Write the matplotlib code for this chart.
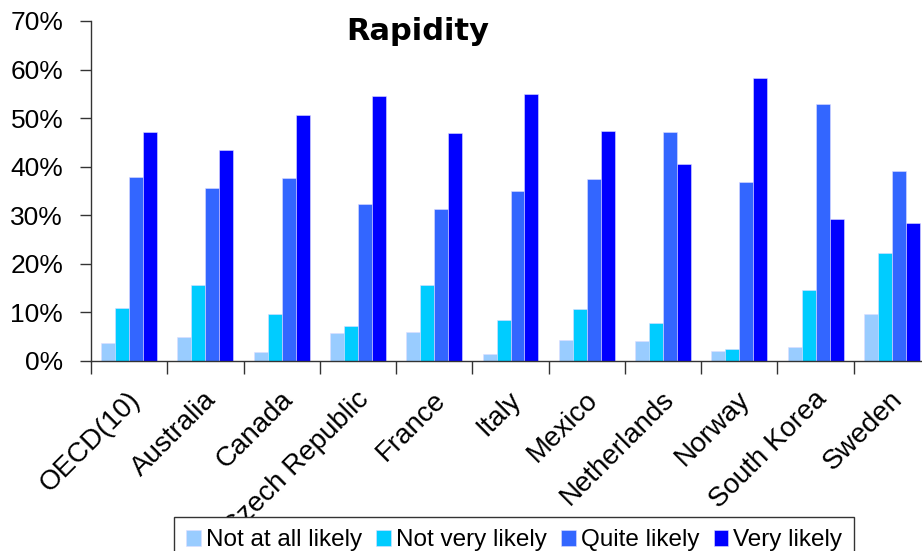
import matplotlib.pyplot as plt
import matplotlib.transforms as mtransforms
import numpy as np

# dados
paises = ['OECD(10)', 'Australia', 'Canada', 'Czech Republic', 'France', 'Italy',
          'Mexico', 'Netherlands', 'Norway', 'South Korea', 'Sweden']
nada_provavel = [3.8, 4.9, 1.9, 5.7, 5.9, 1.5, 4.3, 4.1, 2.0, 2.9, 9.7]
pouco_provavel = [11.0, 15.7, 9.6, 7.3, 15.7, 8.4, 10.8, 7.9, 2.5, 14.6, 22.2]
bem_provavel = [37.8, 35.6, 37.6, 32.3, 31.3, 34.9, 37.4, 47.2, 36.9, 52.9, 39.2]
muito_provavel = [47.1, 43.5, 50.7, 54.6, 47.0, 55.0, 47.3, 40.5, 58.3, 29.3, 28.5]
series = ['Not at all likely', 'Not very likely', 'Quite likely', 'Very likely']
cores = ['#99CCFF', '#00CCFF', '#3366FF', '#0000FF']

fig = plt.figure(figsize=(9.22, 5.51), dpi=100)
ax = fig.add_axes([91 / 922, 1 - 361 / 551, 839 / 922, 340 / 551])

x = np.arange(len(paises))
w = 0.183
valores = [nada_provavel, pouco_provavel, bem_provavel, muito_provavel]
for i, (v, c, nome) in enumerate(zip(valores, cores, series)):
    ax.bar(x + (i - 1.5) * w, np.array(v) / 100, w, color=c, label=nome,
           edgecolor='#ddddff', linewidth=0.4)

ax.set_xlim(-0.5, len(paises) - 0.5)
ax.set_ylim(0, 0.7)
ax.set_yticks(np.arange(0, 0.71, 0.1))
ax.set_yticklabels([f'{int(round(t * 100))}%' for t in np.arange(0, 0.71, 0.1)],
                   fontsize=19, family='Liberation Sans')
ax.tick_params(axis='y', length=8, width=1, color='#333333', pad=12)

# rótulos do eixo x
ax.set_xticks(x)
ax.set_xticklabels(paises, rotation=45, ha='right', va='center',
                   rotation_mode='anchor', fontsize=20, family='Liberation Sans')
ax.set_xticks(np.arange(-0.5, len(paises), 1), minor=True)
ax.tick_params(axis='x', which='major', length=0, pad=25)
ax.tick_params(axis='x', which='minor', length=9, width=1, color='#333333')
desloc = mtransforms.ScaledTranslation(0.07, 0, fig.dpi_scale_trans)
for rot in ax.get_xticklabels():
    rot.set_transform(rot.get_transform() + desloc)

for lado in ['top', 'right']:
    ax.spines[lado].set_visible(False)
for lado in ['left', 'bottom']:
    ax.spines[lado].set_color('#333333')
    ax.spines[lado].set_linewidth(1)

fig.text(0.453, 1 - 31 / 551, 'Rapidity', ha='center', va='center',
         fontsize=22, fontweight='bold', family='DejaVu Sans')

leg = fig.legend(loc='upper left', bbox_to_anchor=(174 / 922, 1 - 517 / 551),
                 ncol=4, prop={'family': 'Liberation Sans', 'size': 17.5},
                 handlelength=0.6, handleheight=0.65, handletextpad=0.2,
                 columnspacing=0.6, borderpad=0.5, fancybox=False,
                 frameon=True, borderaxespad=0)
leg.get_frame().set_edgecolor('#333333')
leg.get_frame().set_linewidth(1)
leg.get_frame().set_alpha(1)

fig.savefig('out.png', dpi=100)
